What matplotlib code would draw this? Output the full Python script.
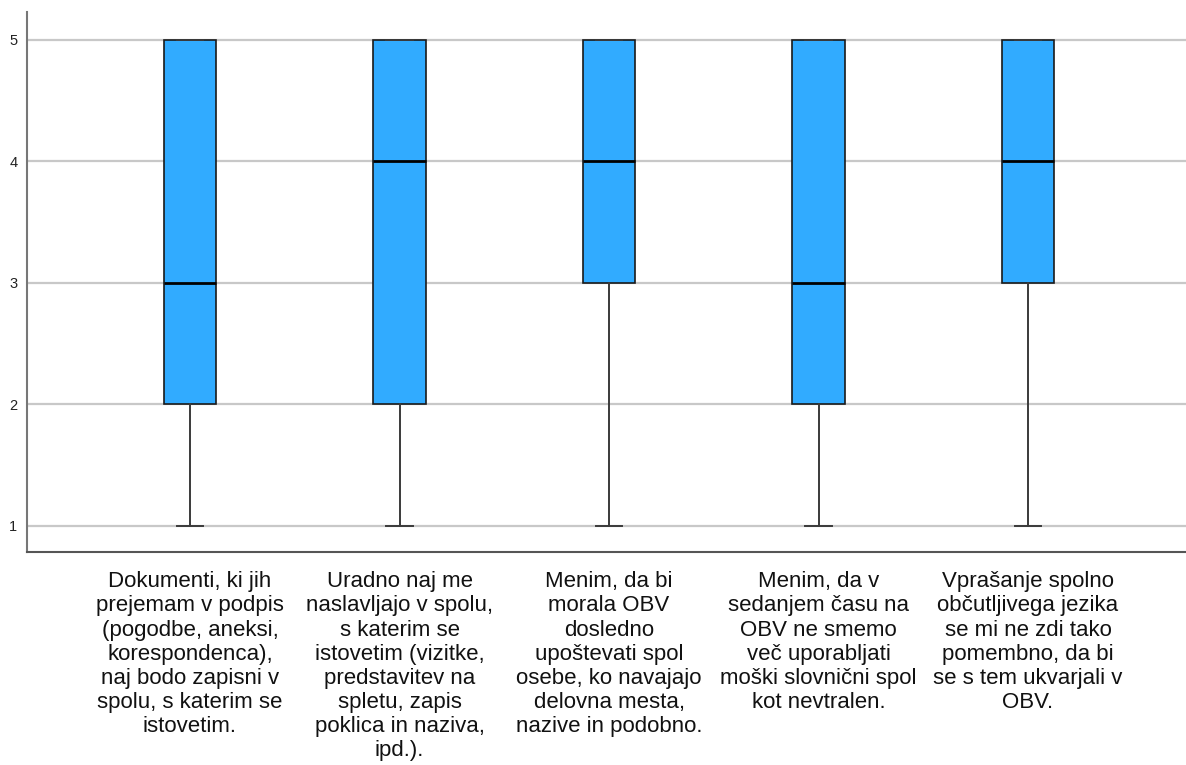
import matplotlib
matplotlib.use("Agg")
import matplotlib.pyplot as plt

labels = [
    "Dokumenti, ki jih\nprejemam v podpis\n(pogodbe, aneksi,\nkorespondenca),\nnaj bodo zapisni v\nspolu, s katerim se\nistovetim.",
    "Uradno naj me\nnaslavljajo v spolu,\ns katerim se\nistovetim (vizitke,\npredstavitev na\nspletu, zapis\npoklica in naziva,\nipd.).",
    "Menim, da bi\nmorala OBV\ndosledno\nupoštevati spol\nosebe, ko navajajo\ndelovna mesta,\nnazive in podobno.",
    "Menim, da v\nsedanjem času na\nOBV ne smemo\nveč uporabljati\nmoški slovnični spol\nkot nevtralen.",
    "Vprašanje spolno\nobčutljivega jezika\nse mi ne zdi tako\npomembno, da bi\nse s tem ukvarjali v\nOBV.",
]
whisker_low = [1, 1, 1, 1, 1]
q1 = [2, 2, 3, 2, 3]
medians = [3, 4, 4, 3, 4]
q3 = [5, 5, 5, 5, 5]
whisker_high = [5, 5, 5, 5, 5]
y_ticks = [1, 2, 3, 4, 5]

stats = [
    dict(whislo=lo, q1=a, med=m, q3=b, whishi=hi, fliers=[])
    for lo, a, m, b, hi in zip(whisker_low, q1, medians, q3, whisker_high)
]

plt.rcParams["font.family"] = ["Liberation Sans", "DejaVu Sans"]

fig = plt.figure(figsize=(11.86, 7.65), dpi=100)
ax = fig.add_axes([27 / 1186, 1 - 552 / 765, 1 - 27 / 1186, (552 - 12) / 765])

positions = list(range(1, len(labels) + 1))
ax.bxp(
    stats,
    positions=positions,
    widths=0.25,
    patch_artist=True,
    showfliers=False,
    boxprops=dict(facecolor="#31abff", edgecolor="#1a1a1a", linewidth=1.2),
    medianprops=dict(color="black", linewidth=2.0),
    whiskerprops=dict(color="#3a3a3a", linewidth=1.4),
    capprops=dict(color="#3a3a3a", linewidth=1.4),
    capwidths=0.125,
    zorder=3,
)

ax.set_xlim(0.222, 5.754)
ax.set_ylim(0.786, 5.23)
ax.set_yticks(y_ticks)
ax.set_yticklabels([str(t) for t in y_ticks], fontsize=10.5, color="#222222")
ax.yaxis.grid(True, color="#c8c8c8", linewidth=1.6, zorder=0)
ax.set_axisbelow(True)

ax.set_xticks(positions)
ax.set_xticklabels(labels, fontsize=16, color="#111111", linespacing=1.19,
                   va="top", ha="center")
ax.tick_params(axis="x", length=0, pad=14)
ax.tick_params(axis="y", length=0, pad=7)

for side in ("top", "right"):
    ax.spines[side].set_visible(False)
ax.spines["left"].set_color("#777777")
ax.spines["left"].set_linewidth(1.5)
ax.spines["bottom"].set_color("#555555")
ax.spines["bottom"].set_linewidth(1.5)

fig.savefig("out.png", dpi=100)
